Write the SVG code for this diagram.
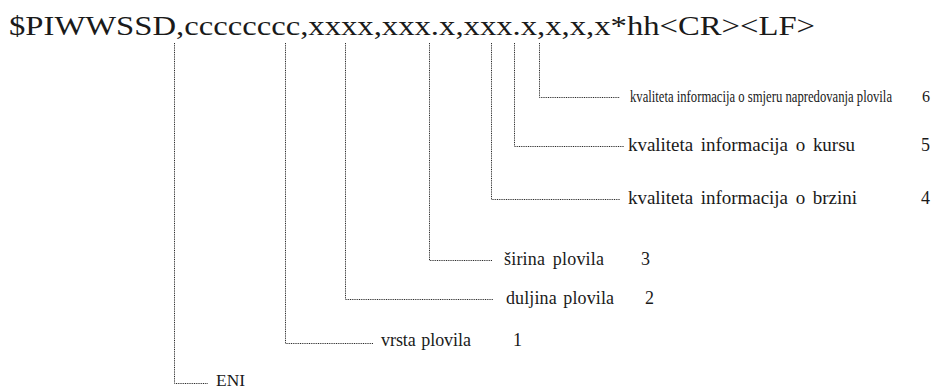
<svg xmlns="http://www.w3.org/2000/svg" width="934" height="389" viewBox="0 0 934 389">
  <style>
    text { font-family: "Liberation Serif", "Times New Roman", serif; fill: #1a1a1a; }
    .lead { fill: none; stroke: #2a2a2a; stroke-width: 1; stroke-dasharray: 1 0.8; }
  </style>
  <rect width="934" height="389" fill="#fff"/>

  <!-- sentence format -->
  <g id="sentence">
    <text x="9" y="35" font-size="27" textLength="806" lengthAdjust="spacingAndGlyphs">$PIWWSSD,cccccccc,xxxx,xxx.x,xxx.x,x,x,x*hh&lt;CR&gt;&lt;LF&gt;</text>
  </g>

  <!-- leader lines from each field to its description -->
  <g id="connectors">
    <path class="lead" d="M174.5 43 V383.5 H208"/>
    <path class="lead" d="M285.5 43 V343.5 H373"/>
    <path class="lead" d="M345.5 43 V299.5 H493"/>
    <path class="lead" d="M429.5 43 V260.5 H492"/>
    <path class="lead" d="M491.5 43 V199.5 H620"/>
    <path class="lead" d="M514.5 43 V146.5 H624"/>
    <path class="lead" d="M539.5 43 V97.5 H620"/>
  </g>

  <g id="field-eni">
    <text x="216" y="386" font-size="17" textLength="29" lengthAdjust="spacingAndGlyphs">ENI</text>
  </g>
  <g id="field-1">
    <text x="381" y="346" font-size="18" word-spacing="1" textLength="90" lengthAdjust="spacing">vrsta plovila</text>
    <text x="513" y="346" font-size="18">1</text>
  </g>
  <g id="field-2">
    <text x="506" y="304" font-size="18" word-spacing="2" textLength="108" lengthAdjust="spacing">duljina plovila</text>
    <text x="645" y="304" font-size="18">2</text>
  </g>
  <g id="field-3">
    <text x="504" y="265" font-size="18" word-spacing="3" textLength="100" lengthAdjust="spacing">širina plovila</text>
    <text x="641" y="265" font-size="18">3</text>
  </g>
  <g id="field-4">
    <text x="628" y="204" font-size="19" word-spacing="3" textLength="229" lengthAdjust="spacing">kvaliteta informacija o brzini</text>
    <text x="921" y="204" font-size="18">4</text>
  </g>
  <g id="field-5">
    <text x="628" y="151" font-size="19" word-spacing="3" textLength="227" lengthAdjust="spacing">kvaliteta informacija o kursu</text>
    <text x="921" y="151" font-size="18">5</text>
  </g>
  <g id="field-6">
    <!-- condensed label: narrowed horizontally -->
    <text transform="translate(630 102) scale(0.768 1)" font-size="16.5">kvaliteta informacija o smjeru napredovanja plovila</text>
    <text x="922" y="102" font-size="16">6</text>
  </g>
</svg>
